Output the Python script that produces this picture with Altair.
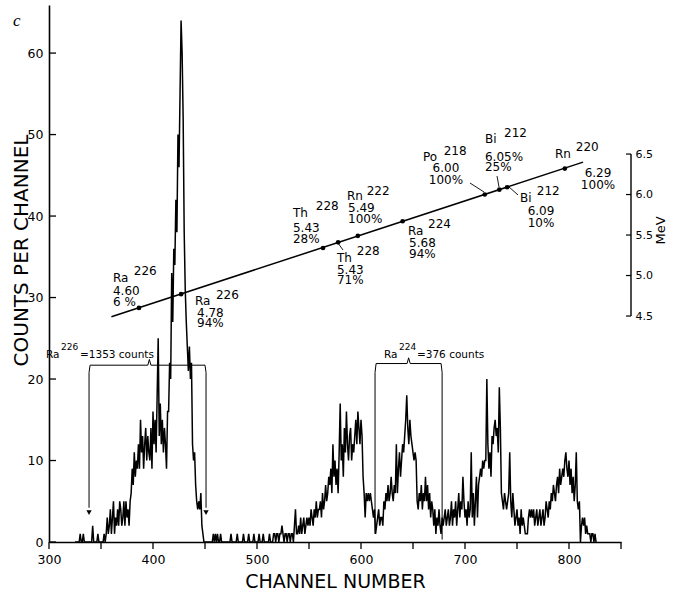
import altair as alt
import pandas as pd

FONT = "DejaVu Sans"

# ---------------- spectrum: counts per channel, channels 325 .. 826 ----------------
first_channel = 325
counts = [
    0, 0, 0, 0, 0, 1, 0, 0, 1, 0,        # 325
    0, 0, 0, 0, 0, 0, 0, 2, 0, 0,        # 335
    0, 0, 1, 0, 0, 0, 0, 0, 1, 0,        # 345
    1, 3, 1, 2, 4, 1, 3, 5, 1, 3,        # 355
    2, 4, 2, 5, 4, 2, 3, 5, 2, 5,        # 365
    3, 4, 2, 5, 6, 9, 7, 11, 8, 10,      # 375
    9, 12, 9, 15, 11, 13, 9, 12, 14, 10,  # 385
    13, 11, 10, 14, 9, 16, 12, 15, 11, 18,  # 395
    25, 13, 17, 12, 15, 11, 14, 12, 9, 16,  # 405
    16, 22, 20, 33, 27, 36, 34, 42, 38, 50,  # 415
    46, 55, 64, 60, 52, 38, 31, 27, 24, 21,  # 425
    24, 20, 22, 12, 10, 11, 7, 5, 4, 5,   # 435
    4, 6, 2, 1, 0, 0, 0, 0, 0, 0,         # 445
    0, 0, 0, 1, 0, 1, 0, 1, 0, 0,         # 455
    1, 0, 0, 0, 0, 0, 0, 0, 0, 0,         # 465
    1, 0, 0, 0, 0, 0, 1, 0, 0, 0,         # 475
    0, 0, 1, 0, 0, 0, 0, 1, 0, 0,         # 485
    0, 0, 1, 0, 0, 0, 0, 1, 0, 0,         # 495
    0, 1, 0, 0, 0, 0, 0, 1, 0, 0,         # 505
    0, 1, 1, 0, 1, 1, 0, 1, 1, 2,         # 515
    1, 0, 1, 1, 0, 1, 1, 0, 1, 1,         # 525
    0, 2, 4, 1, 1, 2, 1, 3, 1, 2,         # 535
    3, 1, 2, 3, 2, 3, 2, 4, 3, 2,         # 545
    4, 3, 5, 3, 4, 4, 5, 3, 6, 4,         # 555
    5, 7, 5, 6, 8, 7, 9, 6, 12, 8,        # 565
    10, 7, 9, 6, 11, 17, 10, 12, 8, 14,   # 575
    11, 16, 12, 10, 13, 14, 10, 12, 11, 13,  # 585
    15, 12, 16, 14, 12, 15, 13, 8, 6, 3,  # 595
    6, 5, 6, 5, 6, 5, 4, 3, 4, 1,         # 605
    2, 3, 4, 2, 3, 3, 2, 5, 4, 6,         # 615
    5, 7, 5, 6, 8, 6, 5, 7, 6, 12,        # 625
    6, 9, 11, 8, 10, 12, 11, 13, 15, 18,  # 635
    14, 12, 15, 13, 12, 11, 10, 11, 10, 5,  # 645
    4, 6, 5, 7, 4, 6, 5, 8, 5, 7,         # 655
    4, 6, 3, 5, 4, 2, 4, 1, 3, 2,         # 665
    4, 2, 1, 3, 2, 3, 4, 2, 3, 4,         # 675
    2, 3, 5, 2, 4, 3, 5, 2, 4, 6,         # 685
    3, 5, 4, 8, 5, 3, 4, 2, 5, 3,         # 695
    4, 11, 3, 6, 2, 5, 8, 3, 7, 8,        # 705
    9, 8, 10, 9, 10, 10, 20, 12, 9, 11,   # 715
    8, 13, 12, 14, 15, 13, 14, 11, 19, 14,  # 725
    6, 5, 4, 6, 5, 4, 5, 6, 11, 5,        # 735
    3, 6, 4, 2, 3, 4, 2, 3, 1, 4,         # 745
    2, 3, 2, 1, 1, 1, 3, 4, 3, 4,         # 755
    3, 4, 2, 3, 4, 2, 3, 4, 2, 3,         # 765
    4, 2, 3, 5, 4, 3, 5, 4, 6, 5,         # 775
    7, 6, 5, 7, 8, 6, 9, 7, 8, 9,         # 785
    8, 10, 11, 9, 8, 10, 7, 9, 6, 8,      # 795
    5, 7, 11, 5, 4, 5, 0, 2, 3, 2,        # 805
    3, 1, 2, 1, 1, 1, 0, 1, 1, 0,         # 815
    1, 0,                                 # 825
]
channels = [first_channel + i for i in range(len(counts))]

# ---------------- axes ----------------
x_label_values = [300, 400, 500, 600, 700, 800]
x_tick_values = [300, 350, 400, 450, 500, 550, 600, 650, 700, 750, 800, 850]
count_tick_values = [0, 10, 20, 30, 40, 50, 60]
mev_tick_values = [4.5, 5.0, 5.5, 6.0, 6.5]

# ---------------- energy calibration ----------------
cal_line_ch = [360, 813.5]
cal_line_mev = [4.49, 6.40]
cal_pt_ch = [386.5, 427, 563.5, 578, 597, 640, 719, 733, 740.5, 796]
cal_pt_mev = [4.60, 4.77, 5.34, 5.41, 5.49, 5.67, 6.00, 6.06, 6.09, 6.32]

# element symbols and mass-number superscripts
sym_text = ["Ra", "Ra", "Th", "Th", "Rn", "Ra", "Po", "Bi", "Bi", "Rn"]
sym_ch = [361.5, 440.4, 534.6, 576.9, 586.5, 645.2, 659.6, 719.2, 752.9, 786.5]
sym_mev = [4.920, 4.636, 5.722, 5.167, 5.932, 5.500, 6.414, 6.636, 5.907, 6.451]
sup_text = ["226", "226", "228", "228", "222", "224", "218", "212", "212", "220"]
sup_ch = [381.5, 460.5, 556.5, 596.0, 605.5, 664.5, 679.5, 737.5, 769.0, 806.5]
sup_mev = [5.006, 4.710, 5.809, 5.253, 5.994, 5.586, 6.488, 6.710, 5.994, 6.537]

# energy (MeV) and branching lines under each symbol
body_left_text = ["4.60\n6 %", "4.78\n94%", "5.43\n28%", "5.43\n71%",
                  "5.49\n100%", "5.68\n94%", "6.05%\n25%"]
body_left_ch = [361.5, 442.3, 534.6, 576.9, 587.5, 646.2, 719.2]
body_left_mev = [4.759, 4.488, 5.537, 5.019, 5.784, 5.352, 6.414]
body_center_text = ["6.00\n100%", "6.09\n10%", "6.29\n100%"]
body_center_ch = [681.7, 773.1, 827.9]
body_center_mev = [6.278, 5.747, 6.216]

# leader lines from labels to calibration points
lead_ch1 = [578.5, 704.8, 730.8, 741.3]
lead_mev1 = [5.39, 6.142, 6.228, 6.105]
lead_ch2 = [582.7, 718.3, 732.7, 751.0]
lead_mev2 = [5.315, 6.031, 6.093, 5.994]

# ---------------- integration brackets ----------------
brace_id = ["Ra226"] * 7 + ["Ra224"] * 7
brace_ch = [338.5, 339.5, 395, 396.5, 398, 450, 451,
            613.5, 614.5, 644.3, 645.8, 647.3, 677, 678]
brace_cnt = [20.8, 21.7, 21.7, 22.4, 21.7, 21.7, 20.8,
             20.8, 21.9, 21.9, 22.6, 21.9, 21.9, 20.8]
vert_ch = [338.5, 451, 613.5, 678]
vert_top = [20.8, 20.8, 20.8, 20.8]
vert_bot = [4.2, 4.2, 1.0, 0.3]
arrow_ch = [338.5, 451]
arrow_cnt = [3.6, 3.6]
btext = ["Ra", "=1353 counts", "Ra", "=376 counts"]
btext_ch = [297.1, 329.8, 622.1, 653.8]
btext_cnt = [22.58, 22.58, 22.58, 22.58]
bsup = ["226", "224"]
bsup_ch = [311.5, 636.5]
bsup_cnt = [23.56, 23.56]

# ---------------- scales ----------------
xs = alt.Scale(domain=[300, 850], nice=False, zero=False)
cs = alt.Scale(domain=[0, 65.9], nice=False, zero=False)
ms = alt.Scale(domain=[1.71, 8.34], nice=False, zero=False)

x_axis = alt.Axis(orient="bottom", values=x_label_values, format="d",
                  title="CHANNEL NUMBER", grid=False, ticks=False,
                  labelFlush=False, labelOverlap=False,
                  domainColor="black", domainWidth=1.6,
                  labelFont=FONT, labelFontSize=12.5, labelColor="black", labelPadding=11,
                  titleFont=FONT, titleFontSize=19, titleFontWeight="normal", titleColor="black",
                  titleY=45, titleBaseline="alphabetic")
y_axis = alt.Axis(orient="left", values=count_tick_values, grid=False, ticks=False,
                  labelFlush=False, labelOverlap=False,
                  domainColor="black", domainWidth=1.6,
                  labelFont=FONT, labelFontSize=12.5, labelColor="black", labelPadding=6,
                  title="COUNTS PER CHANNEL", titleFont=FONT, titleFontSize=20,
                  titleFontWeight="normal", titleColor="black",
                  titleAngle=270, titleX=-28, titleY=245, titleBaseline="middle")
mev_axis = alt.Axis(orient="right", values=mev_tick_values, format=".1f", grid=False,
                    ticks=False, domain=False, offset=10,
                    labelFlush=False, labelOverlap=False,
                    labelFont=FONT, labelFontSize=11, labelColor="black", labelPadding=4,
                    title="MeV", titleFont=FONT, titleFontSize=13, titleFontWeight="normal",
                    titleColor="black", titleAngle=270, titleX=29, titleY=225,
                    titleBaseline="middle")

X = lambda f: alt.X(f, scale=xs, axis=None)
YC = lambda f: alt.Y(f, scale=cs, axis=None)
YM = lambda f: alt.Y(f, scale=ms, axis=None)

# ---------------- counts layers ----------------
spec_df = pd.DataFrame({"ch": channels, "cnt": counts})
spectrum = alt.Chart(spec_df).mark_line(color="black", strokeWidth=1.5).encode(
    x=alt.X("ch:Q", scale=xs, axis=x_axis),
    y=alt.Y("cnt:Q", scale=cs, axis=y_axis),
)

brace_df = pd.DataFrame({"b": brace_id, "ch": brace_ch, "cnt": brace_cnt,
                         "o": list(range(len(brace_ch)))})
braces = alt.Chart(brace_df).mark_line(color="black", strokeWidth=1.0).encode(
    x=X("ch:Q"), y=YC("cnt:Q"), detail="b:N", order="o:Q",
)
vert_df = pd.DataFrame({"ch": vert_ch, "top": vert_top, "bot": vert_bot})
verts = alt.Chart(vert_df).mark_rule(color="black", strokeWidth=1.0).encode(
    x=X("ch:Q"), y=YC("top:Q"), y2="bot:Q",
)
arrow_df = pd.DataFrame({"ch": arrow_ch, "cnt": arrow_cnt})
arrows = alt.Chart(arrow_df).mark_point(shape="triangle-down", filled=True, color="black",
                                        size=28, opacity=1).encode(
    x=X("ch:Q"), y=YC("cnt:Q"),
)
bt_df = pd.DataFrame({"t": btext, "ch": btext_ch, "cnt": btext_cnt})
btexts = alt.Chart(bt_df).mark_text(font=FONT, fontSize=10.5, align="left",
                                    baseline="alphabetic", color="black").encode(
    x=X("ch:Q"), y=YC("cnt:Q"), text="t:N",
)
bs_df = pd.DataFrame({"t": bsup, "ch": bsup_ch, "cnt": bsup_cnt})
bsups = alt.Chart(bs_df).mark_text(font=FONT, fontSize=9, align="left",
                                   baseline="alphabetic", color="black").encode(
    x=X("ch:Q"), y=YC("cnt:Q"), text="t:N",
)
lt_df = pd.DataFrame({"v": count_tick_values})
left_ticks = alt.Chart(lt_df).mark_rule(color="black", strokeWidth=1.3).encode(
    y=YC("v:Q"), x=alt.value(0), x2=alt.value(7),
)
xt_df = pd.DataFrame({"v": x_tick_values})
x_ticks = alt.Chart(xt_df).mark_rule(color="black", strokeWidth=1.3).encode(
    x=X("v:Q"), y=alt.value(537), y2=alt.value(544),
)
panel_df = pd.DataFrame({"t": ["c"]})
panel = alt.Chart(panel_df).mark_text(font="Liberation Serif", fontStyle="italic",
                                      fontSize=17, align="left", baseline="alphabetic",
                                      color="black").encode(
    text="t:N", x=alt.value(-36), y=alt.value(21),
)

# ---------------- MeV layers ----------------
cal_df = pd.DataFrame({"ch": cal_line_ch, "mev": cal_line_mev})
cal_line = alt.Chart(cal_df).mark_line(color="black", strokeWidth=1.5).encode(
    x=X("ch:Q"), y=alt.Y("mev:Q", scale=ms, axis=mev_axis),
)
pt_df = pd.DataFrame({"ch": cal_pt_ch, "mev": cal_pt_mev})
cal_pts = alt.Chart(pt_df).mark_circle(color="black", size=22, opacity=1).encode(
    x=X("ch:Q"), y=YM("mev:Q"),
)
lead_df = pd.DataFrame({"c1": lead_ch1, "m1": lead_mev1, "c2": lead_ch2, "m2": lead_mev2})
leaders = alt.Chart(lead_df).mark_rule(color="black", strokeWidth=0.9).encode(
    x=X("c1:Q"), x2="c2:Q", y=YM("m1:Q"), y2="m2:Q",
)
sym_df = pd.DataFrame({"t": sym_text, "ch": sym_ch, "mev": sym_mev})
syms = alt.Chart(sym_df).mark_text(font=FONT, fontSize=12, align="left",
                                   baseline="alphabetic", color="black").encode(
    x=X("ch:Q"), y=YM("mev:Q"), text="t:N",
)
sup_df = pd.DataFrame({"t": sup_text, "ch": sup_ch, "mev": sup_mev})
sups = alt.Chart(sup_df).mark_text(font=FONT, fontSize=12, align="left",
                                   baseline="alphabetic", color="black").encode(
    x=X("ch:Q"), y=YM("mev:Q"), text="t:N",
)
bl_df = pd.DataFrame({"t": body_left_text, "ch": body_left_ch, "mev": body_left_mev})
body_left = alt.Chart(bl_df).mark_text(font=FONT, fontSize=12, align="left",
                                       baseline="alphabetic", color="black",
                                       lineBreak="\n", lineHeight=10.5).encode(
    x=X("ch:Q"), y=YM("mev:Q"), text="t:N",
)
bc_df = pd.DataFrame({"t": body_center_text, "ch": body_center_ch, "mev": body_center_mev})
body_center = alt.Chart(bc_df).mark_text(font=FONT, fontSize=12, align="center",
                                         baseline="alphabetic", color="black",
                                         lineBreak="\n", lineHeight=11.5).encode(
    x=X("ch:Q"), y=YM("mev:Q"), text="t:N",
)
rt_df = pd.DataFrame({"v": mev_tick_values})
right_ticks = alt.Chart(rt_df).mark_rule(color="black", strokeWidth=1.2).encode(
    y=YM("v:Q"), x=alt.value(577), x2=alt.value(582),
)
ra_df = pd.DataFrame({"lo": [mev_tick_values[0]], "hi": [mev_tick_values[-1]]})
right_line = alt.Chart(ra_df).mark_rule(color="black", strokeWidth=1.4).encode(
    y=YM("lo:Q"), y2="hi:Q", x=alt.value(582),
)

# every layer has its own scales with explicit, identical domains
chart = alt.layer(
    spectrum, braces, verts, arrows, btexts, bsups, left_ticks, x_ticks, panel,
    cal_line, cal_pts, leaders, syms, sups, body_left, body_center, right_ticks, right_line,
).resolve_scale(x="independent", y="independent").properties(
    width=572, height=537,
    autosize=alt.AutoSizeParams(type="none"),
    padding={"left": 49, "top": 5, "right": 57, "bottom": 51},
    background="white",
).configure_view(stroke=None)

chart.save("out.html", embed_options={"renderer": "svg", "actions": False})
